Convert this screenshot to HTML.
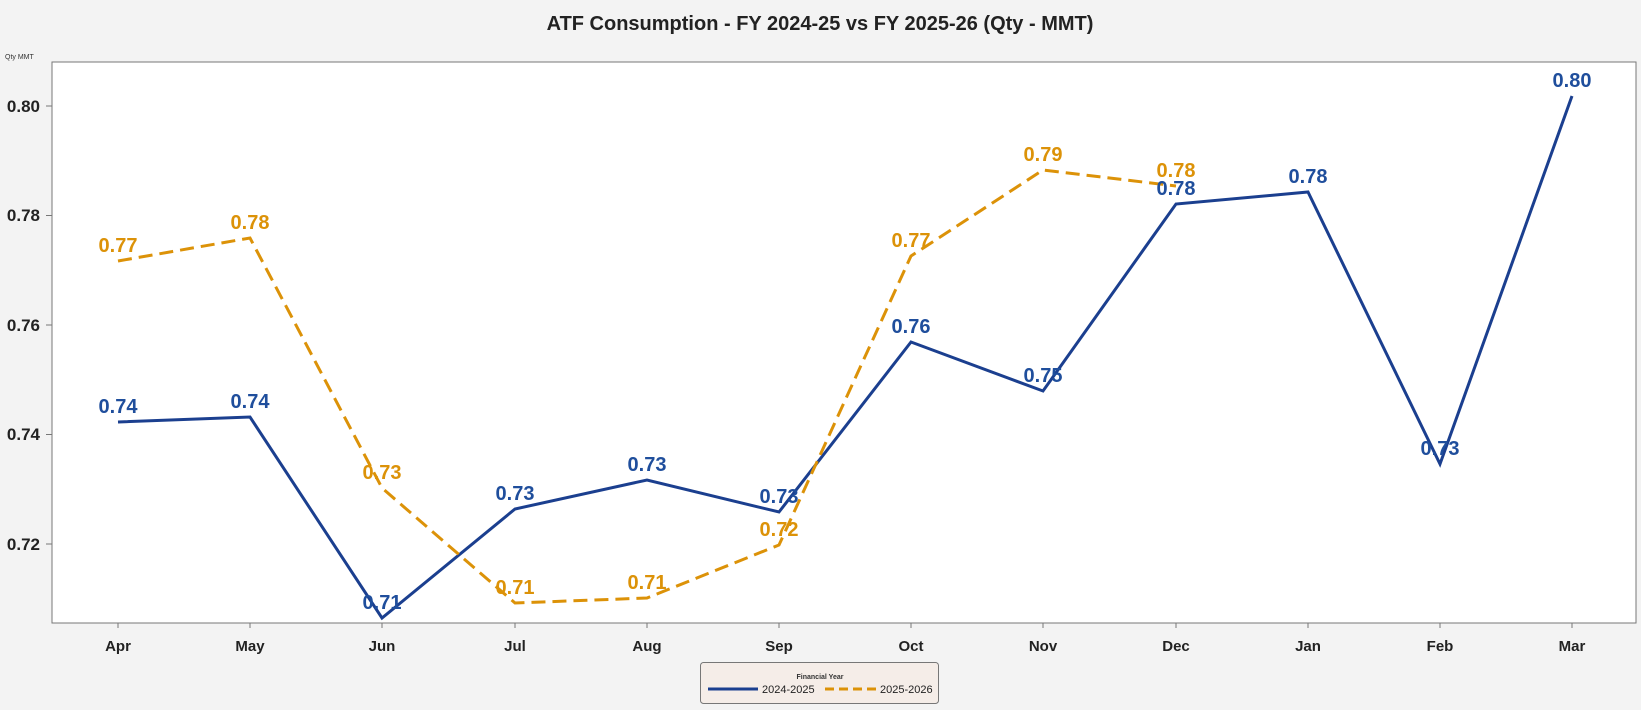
<!DOCTYPE html>
<html><head><meta charset="utf-8"><style>
html,body{margin:0;padding:0;background:#f3f3f3;}
svg{display:block;font-family:"Liberation Sans",sans-serif;}
</style></head><body>
<svg width="1641" height="710" viewBox="0 0 1641 710" xmlns="http://www.w3.org/2000/svg">
<rect width="1641" height="710" fill="#f3f3f3"/>
<text x="820" y="30" text-anchor="middle" font-size="20" font-weight="bold" fill="#222">ATF Consumption - FY 2024-25 vs FY 2025-26 (Qty - MMT)</text>
<text x="5" y="59" font-size="7" fill="#333">Qty MMT</text>
<rect x="52" y="62" width="1584" height="561" fill="#fff" stroke="#777" stroke-width="1"/>
<g font-size="17" font-weight="bold" fill="#222" text-anchor="end">
<text x="40" y="112">0.80</text><text x="40" y="221">0.78</text><text x="40" y="331">0.76</text><text x="40" y="440">0.74</text><text x="40" y="550">0.72</text>
</g>
<g stroke="#777"><line x1="46" y1="106" x2="52" y2="106"/><line x1="46" y1="215.5" x2="52" y2="215.5"/><line x1="46" y1="325" x2="52" y2="325"/><line x1="46" y1="434.5" x2="52" y2="434.5"/><line x1="46" y1="544" x2="52" y2="544"/>
<line x1="118" y1="623" x2="118" y2="628"/><line x1="250" y1="623" x2="250" y2="628"/><line x1="382" y1="623" x2="382" y2="628"/><line x1="515" y1="623" x2="515" y2="628"/><line x1="647" y1="623" x2="647" y2="628"/><line x1="779" y1="623" x2="779" y2="628"/><line x1="911" y1="623" x2="911" y2="628"/><line x1="1043" y1="623" x2="1043" y2="628"/><line x1="1176" y1="623" x2="1176" y2="628"/><line x1="1308" y1="623" x2="1308" y2="628"/><line x1="1440" y1="623" x2="1440" y2="628"/><line x1="1572" y1="623" x2="1572" y2="628"/></g>
<g font-size="15" font-weight="bold" fill="#222" text-anchor="middle">
<text x="118" y="651">Apr</text><text x="250" y="651">May</text><text x="382" y="651">Jun</text><text x="515" y="651">Jul</text><text x="647" y="651">Aug</text><text x="779" y="651">Sep</text><text x="911" y="651">Oct</text><text x="1043" y="651">Nov</text><text x="1176" y="651">Dec</text><text x="1308" y="651">Jan</text><text x="1440" y="651">Feb</text><text x="1572" y="651">Mar</text>
</g>
<polyline fill="none" stroke="#1b3f8f" stroke-width="3" points="118,422 250,417 382,618 515,509 647,480 779,512 911,342 1043,391 1176,204 1308,192 1440,464 1572,96"/>
<polyline fill="none" stroke="#dc9208" stroke-width="3" stroke-dasharray="14,7" points="118,261 250,238 382,488 515,603 647,598 779,545 911,256 1043,170 1176,186"/>
<g font-size="20" font-weight="bold" fill="#dc9208" text-anchor="middle">
<text x="118" y="252">0.77</text><text x="250" y="229">0.78</text><text x="382" y="479">0.73</text><text x="515" y="594">0.71</text><text x="647" y="589">0.71</text><text x="779" y="536">0.72</text><text x="911" y="247">0.77</text><text x="1043" y="161">0.79</text><text x="1176" y="177">0.78</text>
</g>
<g font-size="20" font-weight="bold" fill="#1f4e9c" text-anchor="middle">
<text x="118" y="413">0.74</text><text x="250" y="408">0.74</text><text x="382" y="609">0.71</text><text x="515" y="500">0.73</text><text x="647" y="471">0.73</text><text x="779" y="503">0.73</text><text x="911" y="333">0.76</text><text x="1043" y="382">0.75</text><text x="1176" y="195">0.78</text><text x="1308" y="183">0.78</text><text x="1440" y="455">0.73</text><text x="1572" y="87">0.80</text>
</g>
<rect x="700.5" y="662.5" width="238" height="41" rx="3" fill="#f5ede8" stroke="#777"/>
<text x="820" y="679" text-anchor="middle" font-size="7" font-weight="bold" fill="#333">Financial Year</text>
<line x1="708" y1="689" x2="758" y2="689" stroke="#1b3f8f" stroke-width="3"/>
<text x="762" y="693" font-size="11" fill="#222">2024-2025</text>
<line x1="825" y1="689" x2="876" y2="689" stroke="#dc9208" stroke-width="3" stroke-dasharray="9,5"/>
<text x="880" y="693" font-size="11" fill="#222">2025-2026</text>
</svg>
</body></html>
